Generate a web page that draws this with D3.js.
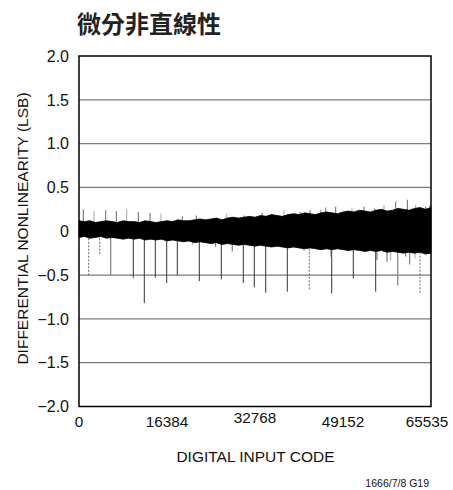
<!DOCTYPE html>
<html>
<head>
<meta charset="utf-8">
<script src="https://cdn.jsdelivr.net/npm/d3@7"></script>
<style>
  html, body { margin: 0; padding: 0; background: #fff; }
  svg { display: block; }
  text { font-family: "Liberation Sans", Arial, sans-serif; fill: #111; }
</style>
</head>
<body>
<svg id="chart" width="453" height="490"></svg>
<script>
// Axis ticks
const xTicks = [0, 16384, 32768, 49152, 65535];
const yTicks = [2, 1.5, 1, 0.5, 0, -0.5, -1, -1.5, -2];
const yTickLabels = ["2.0", "1.5", "1.0", "0.5", "0", "\u22120.5", "\u22121.0", "\u22121.5", "\u22122.0"];

// Envelope of the DNL noise band, sampled every 1024 codes
const bandCodes = d3.range(0, 65536, 1024).concat([65535]).slice(0, 65);
const bandUpper = [
  0.12, 0.11, 0.12, 0.10, 0.11, 0.12, 0.11, 0.10, 0.12, 0.11,
  0.11, 0.10, 0.12, 0.11, 0.10, 0.11, 0.12, 0.11, 0.13, 0.12,
  0.12, 0.13, 0.14, 0.13, 0.14, 0.15, 0.13, 0.15, 0.16, 0.15,
  0.16, 0.17, 0.16, 0.18, 0.17, 0.19, 0.18, 0.17, 0.19, 0.20,
  0.19, 0.21, 0.20, 0.19, 0.21, 0.22, 0.21, 0.20, 0.22, 0.23,
  0.22, 0.24, 0.23, 0.22, 0.24, 0.25, 0.23, 0.24, 0.26, 0.25,
  0.24, 0.26, 0.27, 0.25, 0.27
];
const bandLower = [
  -0.07, -0.06, -0.08, -0.07, -0.06, -0.08, -0.07, -0.08, -0.09, -0.08,
  -0.09, -0.08, -0.10, -0.09, -0.10, -0.09, -0.11, -0.10, -0.11, -0.12,
  -0.11, -0.13, -0.12, -0.13, -0.14, -0.13, -0.15, -0.14, -0.15, -0.16,
  -0.15, -0.16, -0.17, -0.16, -0.17, -0.18, -0.17, -0.18, -0.19, -0.18,
  -0.19, -0.20, -0.19, -0.20, -0.21, -0.20, -0.21, -0.20, -0.21, -0.22,
  -0.21, -0.22, -0.23, -0.22, -0.23, -0.22, -0.24, -0.23, -0.24, -0.25,
  -0.24, -0.25, -0.24, -0.26, -0.25
];

// Isolated codes that poke out of the band
const hairCodes = [800, 2793, 4971, 6944, 8881, 11040, 13219, 15266, 19232, 21839,
  27498, 30720, 34070, 38167, 41145, 43007, 45000, 45930, 47792, 50826,
  53061, 55053, 56784, 58963, 61122, 62686, 64548, 65348,
  21094, 25451, 41890, 46860, 55480, 57342, 58031, 60824, 61569, 62556];
const hairValues = [0.25, 0.23, 0.24, 0.23, 0.25, 0.22, 0.21, 0.20, 0.17, 0.18,
  0.20, 0.18, 0.21, 0.24, 0.22, 0.24, 0.25, 0.27, 0.28, 0.27,
  0.28, 0.26, 0.30, 0.34, 0.36, 0.30, 0.28, 0.30,
  -0.16, -0.18, -0.22, -0.29, -0.33, -0.35, -0.33, -0.29, -0.38, -0.31];

// Large negative DNL at major carry transitions
const spikeCodes = [1806, 3854, 5902, 10110, 12157, 14205, 16328, 18301, 22397, 26493,
  28541, 30589, 32637, 34759, 38780, 42876, 47046, 51068, 55238, 59334, 63486];
const spikeValues = [-0.50, -0.26, -0.50, -0.53, -0.82, -0.53, -0.59, -0.50, -0.57, -0.55,
  -0.23, -0.59, -0.64, -0.70, -0.69, -0.67, -0.71, -0.54, -0.69, -0.62, -0.71];
const spikeKinds = ["dot", "dot", "gray", "solid", "solid", "solid", "solid", "solid", "solid", "solid",
  "gray", "solid", "solid", "solid", "solid", "dot", "solid", "solid", "solid", "gray", "dot"];

const svg = d3.select("#chart");
const plot = { left: 79, right: 431, top: 56, bottom: 406.5 };

const x = d3.scaleLinear().domain([0, 65535]).range([plot.left, plot.right]);
const y = d3.scaleLinear().domain([-2, 2]).range([plot.bottom, plot.top]);

// Title
svg.append("text")
  .attr("x", 77).attr("y", 33)
  .style("font-family", "'Noto Sans CJK TC', 'Noto Sans CJK JP', sans-serif")
  .style("font-weight", "700")
  .style("font-size", "24px")
  .style("fill", "#222")
  .text("微分非直線性");

// Horizontal grid
svg.append("g")
  .selectAll("line")
  .data(yTicks.filter(v => v > -2 && v < 2))
  .join("line")
  .attr("x1", plot.left).attr("x2", plot.right)
  .attr("y1", d => y(d)).attr("y2", d => y(d))
  .attr("stroke", "#7a7a7a")
  .attr("stroke-width", 1.2);

// Hairs outside the band
svg.append("g")
  .selectAll("line")
  .data(hairCodes.map((c, i) => [c, hairValues[i]]))
  .join("line")
  .attr("x1", d => x(d[0])).attr("x2", d => x(d[0]))
  .attr("y1", y(0)).attr("y2", d => y(d[1]))
  .attr("stroke", (d, i) => i % 3 === 1 ? "#999" : "#555")
  .attr("stroke-width", 0.9);

// Carry-transition spikes
const spikeColor = { solid: "#333", gray: "#8a8a8a", dot: "#666" };
svg.append("g")
  .selectAll("line")
  .data(spikeCodes.map((c, i) => ({ c, v: spikeValues[i], k: spikeKinds[i] })))
  .join("line")
  .attr("x1", d => x(d.c)).attr("x2", d => x(d.c))
  .attr("y1", y(0)).attr("y2", d => y(d.v))
  .attr("stroke", d => spikeColor[d.k])
  .attr("stroke-width", d => d.k === "gray" ? 1.3 : 1)
  .attr("stroke-dasharray", d => d.k === "dot" ? "2,1.5" : null);

// Noise band
const band = d3.area()
  .x((d, i) => x(bandCodes[i]))
  .y0((d, i) => y(bandLower[i]))
  .y1((d, i) => y(bandUpper[i]));
svg.append("path")
  .datum(bandUpper)
  .attr("d", band)
  .attr("fill", "#000")
  .attr("stroke", "#000")
  .attr("stroke-width", 0.8);

// Plot frame
svg.append("rect")
  .attr("x", plot.left).attr("y", plot.top)
  .attr("width", plot.right - plot.left).attr("height", plot.bottom - plot.top)
  .attr("fill", "none").attr("stroke", "#000").attr("stroke-width", 1.5);

// Y tick labels
svg.append("g")
  .selectAll("text")
  .data(yTicks)
  .join("text")
  .attr("x", 69).attr("y", d => y(d))
  .attr("dy", "0.36em")
  .attr("text-anchor", "end")
  .style("font-size", "16px")
  .text((d, i) => yTickLabels[i]);

// X tick labels
svg.append("g")
  .selectAll("text")
  .data(xTicks)
  .join("text")
  .attr("x", d => x(d) + (d === 65535 ? -4 : 0))
  .attr("y", d => d === 32768 ? 423 : 427)
  .attr("text-anchor", "middle")
  .style("font-size", "15.3px")
  .text(d => String(d));

// Axis titles
svg.append("text")
  .attr("x", 255.5).attr("y", 462)
  .attr("text-anchor", "middle")
  .style("font-size", "15.5px")
  .text("DIGITAL INPUT CODE");

svg.append("text")
  .attr("transform", "translate(28,228.5) rotate(-90)")
  .attr("text-anchor", "middle")
  .style("font-size", "15.5px")
  .text("DIFFERENTIAL NONLINEARITY (LSB)");

// Figure id
svg.append("text")
  .attr("x", 429).attr("y", 487)
  .attr("text-anchor", "end")
  .style("font-size", "10.5px")
  .text("1666/7/8 G19");
</script>
</body>
</html>
